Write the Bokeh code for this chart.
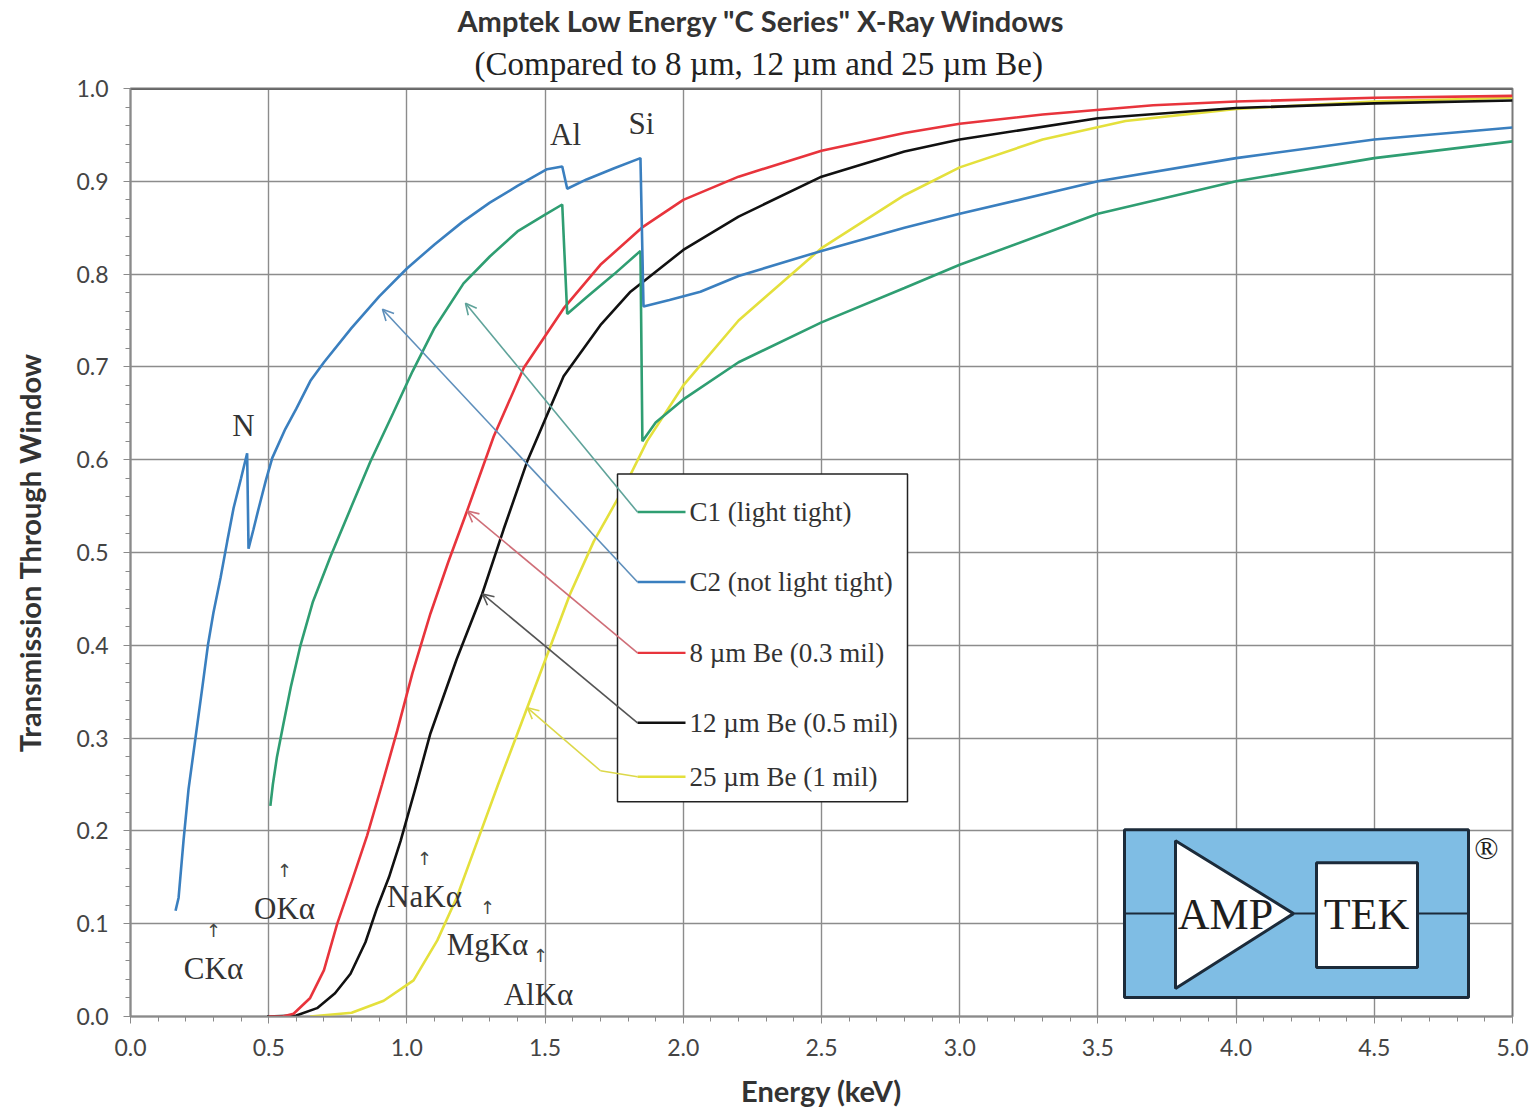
from bokeh.plotting import figure
from bokeh.models import Range1d, Title, SingleIntervalTicker, Arrow, OpenHead, NumeralTickFormatter
from bokeh.core.properties import value
from bokeh.embed import file_html
from bokeh.resources import INLINE

# ---------------- data ----------------
c2_e = [0.163, 0.174, 0.192, 0.210, 0.235, 0.260, 0.280, 0.300, 0.326, 0.350, 0.373, 0.400, 0.422, 0.427,
        0.445, 0.464, 0.490, 0.513, 0.560, 0.600, 0.651, 0.700, 0.800, 0.900, 1.000, 1.100, 1.200, 1.300,
        1.400, 1.507, 1.562, 1.580, 1.650, 1.750, 1.845, 1.856, 1.950, 2.062, 2.200, 2.500, 2.800, 3.000,
        3.500, 4.000, 4.500, 5.000]
c2_t = [0.114, 0.128, 0.190, 0.245, 0.300, 0.355, 0.400, 0.435, 0.473, 0.512, 0.548, 0.580, 0.607, 0.504,
        0.525, 0.548, 0.578, 0.602, 0.633, 0.655, 0.685, 0.705, 0.742, 0.776, 0.806, 0.832, 0.856, 0.877,
        0.895, 0.913, 0.916, 0.892, 0.902, 0.914, 0.925, 0.765, 0.772, 0.781, 0.798, 0.825, 0.850, 0.865,
        0.900, 0.925, 0.945, 0.958]

c1_e = [0.506, 0.515, 0.530, 0.553, 0.580, 0.615, 0.660, 0.724, 0.800, 0.868, 0.950, 1.020, 1.100, 1.205,
        1.300, 1.400, 1.500, 1.562, 1.580, 1.650, 1.750, 1.845, 1.852, 1.900, 2.000, 2.200, 2.500, 2.800,
        3.000, 3.500, 4.000, 4.500, 5.000]
c1_t = [0.227, 0.250, 0.280, 0.315, 0.355, 0.400, 0.447, 0.496, 0.550, 0.598, 0.650, 0.695, 0.742, 0.790,
        0.819, 0.846, 0.864, 0.875, 0.757, 0.775, 0.800, 0.825, 0.620, 0.640, 0.665, 0.705, 0.748, 0.785,
        0.810, 0.865, 0.900, 0.925, 0.943]

be8_e = [0.500, 0.550, 0.590, 0.650, 0.700, 0.748, 0.800, 0.856, 0.910, 0.965, 1.020, 1.085, 1.150, 1.218,
         1.314, 1.423, 1.567, 1.700, 1.850, 2.000, 2.200, 2.500, 2.800, 3.000, 3.300, 3.700, 4.000, 4.500, 5.000]
be8_t = [0.000, 0.000, 0.003, 0.020, 0.050, 0.100, 0.145, 0.195, 0.250, 0.308, 0.370, 0.434, 0.490, 0.545,
         0.625, 0.699, 0.763, 0.810, 0.850, 0.880, 0.905, 0.933, 0.952, 0.962, 0.972, 0.982, 0.986, 0.990, 0.992]

be12_e = [0.494, 0.600, 0.675, 0.740, 0.796, 0.850, 0.892, 0.935, 0.977, 1.030, 1.085, 1.180, 1.272, 1.350,
          1.435, 1.567, 1.700, 1.809, 2.000, 2.200, 2.500, 2.800, 3.000, 3.500, 4.000, 4.500, 5.000]
be12_t = [0.000, 0.001, 0.009, 0.025, 0.046, 0.080, 0.117, 0.150, 0.189, 0.245, 0.305, 0.385, 0.455, 0.525,
          0.598, 0.690, 0.745, 0.781, 0.826, 0.862, 0.905, 0.932, 0.945, 0.968, 0.979, 0.984, 0.987]

be25_e = [0.650, 0.800, 0.916, 1.024, 1.110, 1.180, 1.255, 1.330, 1.400, 1.508, 1.590, 1.676, 1.784, 1.869,
          2.000, 2.200, 2.500, 2.800, 3.000, 3.300, 3.600, 4.000, 4.500, 5.000]
be25_t = [0.000, 0.004, 0.017, 0.039, 0.082, 0.128, 0.189, 0.250, 0.305, 0.390, 0.455, 0.512, 0.569, 0.620,
          0.680, 0.750, 0.828, 0.885, 0.915, 0.945, 0.965, 0.978, 0.986, 0.990]

series_names = ["C1 (light tight)", "C2 (not light tight)", "8 \u00b5m Be (0.3 mil)",
                "12 \u00b5m Be (0.5 mil)", "25 \u00b5m Be (1 mil)"]
series_colors = ["#2f9e72", "#3a7fbf", "#e8343c", "#111111", "#e4e03c"]
leader_colors = ["#5fa39a", "#5e8fbb", "#cf6f78", "#555555", "#dcd84a"]

edge_labels = ["N", "Al", "Si"]
line_labels = ["CK\u03b1", "OK\u03b1", "NaK\u03b1", "MgK\u03b1", "AlK\u03b1"]

x_ticks = [0.0, 0.5, 1.0, 1.5, 2.0, 2.5, 3.0, 3.5, 4.0, 4.5, 5.0]
y_ticks = [0.0, 0.1, 0.2, 0.3, 0.4, 0.5, 0.6, 0.7, 0.8, 0.9, 1.0]

# ---------------- figure ----------------
p = figure(width=1538, height=1112, output_backend="svg", toolbar_location=None, title=None,
           x_range=Range1d(0, 5), y_range=Range1d(0, 1),
           min_border_left=130, min_border_right=26, min_border_top=87, min_border_bottom=96)

p.add_layout(Title(text="(Compared to 8 \u00b5m, 12 \u00b5m and 25 \u00b5m Be)", align="left", offset=344,
                   text_font="Liberation Serif", text_font_size="33px", text_font_style="normal",
                   text_color="#222222", standoff=13), "above")
p.add_layout(Title(text='Amptek Low Energy "C Series" X-Ray Windows', align="left", offset=327,
                   text_font="Lato", text_font_size="29px", text_font_style="bold",
                   text_color="#333333", standoff=0), "above")

xt = SingleIntervalTicker(interval=0.5, num_minor_ticks=5)
yt = SingleIntervalTicker(interval=0.1, num_minor_ticks=5)
p.xaxis.ticker = xt
p.yaxis.ticker = yt
p.xgrid.ticker = xt
p.ygrid.ticker = yt
p.xaxis.formatter = NumeralTickFormatter(format="0.0")
p.yaxis.formatter = NumeralTickFormatter(format="0.0")

for ax in (p.xaxis, p.yaxis):
    ax.axis_line_color = "#8a8a8a"
    ax.axis_line_width = 1.5
    ax.major_tick_line_color = "#8a8a8a"
    ax.minor_tick_line_color = "#8a8a8a"
    ax.major_tick_out = 7
    ax.major_tick_in = 0
    ax.minor_tick_out = 5
    ax.minor_tick_in = 0
    ax.major_label_text_font = "Lato"
    ax.major_label_text_font_size = "23px"
    ax.major_label_text_color = "#444444"
    ax.axis_label_text_font = "Lato"
    ax.axis_label_text_font_style = "bold"
    ax.axis_label_text_font_size = "29px"
    ax.axis_label_text_color = "#333333"

p.xaxis.axis_label = "Energy (keV)"
p.yaxis.axis_label = "Transmission Through Window"
p.xaxis.major_label_standoff = 15
p.yaxis.major_label_standoff = 15
p.xaxis.axis_label_standoff = 14
p.yaxis.axis_label_standoff = 26

p.grid.grid_line_color = "#8c8c8c"
p.grid.grid_line_width = 1.4
p.outline_line_color = "#7a7a7a"
p.outline_line_width = 2
p.background_fill_color = "white"

# curves
curves = [(c1_e, c1_t), (c2_e, c2_t), (be8_e, be8_t), (be12_e, be12_t), (be25_e, be25_t)]
for i in [4, 3, 2, 0, 1]:
    e, t = curves[i]
    p.line(e, t, line_color=series_colors[i], line_width=2.6)

# top edge of the plot area drawn darker, as in the original
p.line([0, 5], [1, 1], line_color="#666666", line_width=3)

# ---------------- legend box with leaders ----------------
def ex(px):
    return (px - 130) / 276.4

def ty(py):
    return (1016 - py) / 929.0

p.quad(left=[ex(617)], right=[ex(907)], top=[ty(473)], bottom=[ty(801)],
       fill_color="white", line_color="#222222", line_width=1.5)

legend_py = [511, 581, 652, 722, 776]
arrow_tips = [(465, 302), (382, 308), (467, 510), (482, 593), (527, 707)]
for i, name in enumerate(series_names):
    y = ty(legend_py[i])
    p.line([ex(637), ex(685)], [y, y], line_color=series_colors[i], line_width=2.4)
    p.text(x=[ex(689)], y=[y], text=[name], text_font=value("Liberation Serif"),
           text_font_size="27px", text_baseline="middle", text_align="left", text_color="#333333")
    tx, tyy = arrow_tips[i]
    if i == 4:
        p.line([ex(637), ex(600)], [y, ty(770)], line_color=leader_colors[i], line_width=1.6)
        sx, sy = ex(600), ty(770)
    else:
        sx, sy = ex(637), y
    p.add_layout(Arrow(end=OpenHead(size=11, line_color=leader_colors[i], line_width=1.6),
                       x_start=sx, y_start=sy, x_end=ex(tx), y_end=ty(tyy),
                       line_color=leader_colors[i], line_width=1.6))

# ---------------- edge labels ----------------
p.text(x=[ex(243), ex(565), ex(641)], y=[ty(424), ty(133), ty(122)], text=edge_labels,
       text_font=value("Liberation Serif"), text_font_size="31px", text_align="center",
       text_baseline="middle", text_color="#333333")

# ---------------- X-ray line markers ----------------
lab_px = [(213, 968), (284, 908), (424, 896), (487, 944), (538, 994)]
arr_px = [(213, 930), (284, 870), (424, 858), (487, 907), (540, 955)]
p.text(x=[ex(a) for a, b in lab_px], y=[ty(b) for a, b in lab_px], text=line_labels,
       text_font=value("Liberation Serif"), text_font_size="31px", text_align="center",
       text_baseline="middle", text_color="#333333")
p.text(x=[ex(a) for a, b in arr_px], y=[ty(b) for a, b in arr_px], text=["\u2191"] * 5,
       text_font=value("DejaVu Sans"), text_font_size="18px", text_align="center",
       text_baseline="middle", text_color="#444444")

# ---------------- AMPTEK logo ----------------
navy = "#1c2b3a"
p.quad(left=[ex(1124)], right=[ex(1468)], top=[ty(829)], bottom=[ty(997)],
       fill_color="#7fbde4", line_color=navy, line_width=3)
p.line([ex(1124), ex(1468)], [ty(913), ty(913)], line_color=navy, line_width=2)
p.patch([ex(1175), ex(1175), ex(1293)], [ty(840), ty(988), ty(913)],
        fill_color="white", line_color=navy, line_width=3)
p.quad(left=[ex(1316)], right=[ex(1417)], top=[ty(862)], bottom=[ty(967)],
       fill_color="white", line_color=navy, line_width=3)
p.text(x=[ex(1225), ex(1366)], y=[ty(914), ty(914)], text=["AMP", "TEK"],
       text_font=value("Liberation Serif"), text_font_size="44px", text_align="center",
       text_baseline="middle", text_color="#1e1e1e")
p.text(x=[ex(1486)], y=[ty(847)], text=["\u00ae"], text_font=value("Liberation Serif"),
       text_font_size="32px", text_align="center", text_baseline="middle", text_color="#1e1e1e")

open("out.html", "w").write(file_html(p, INLINE))
